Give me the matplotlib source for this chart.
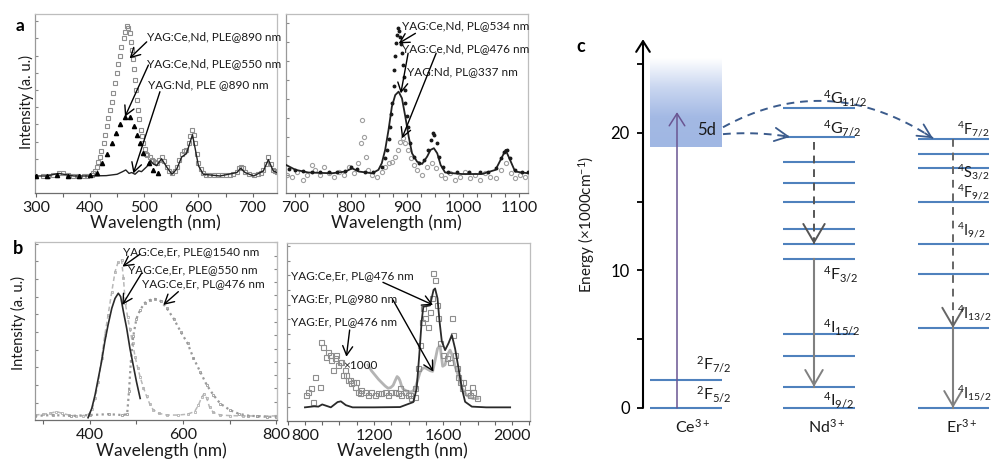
import numpy as np
import matplotlib
matplotlib.use("Agg")
import matplotlib.pyplot as plt
from matplotlib.ticker import FixedLocator, MultipleLocator
from matplotlib.colors import LinearSegmentedColormap

plt.rcParams['font.family'] = ['Lato', 'DejaVu Sans']
plt.rcParams['mathtext.fontset'] = 'custom'
plt.rcParams['mathtext.rm'] = 'Lato'
plt.rcParams['mathtext.it'] = 'Lato:italic'
plt.rcParams['mathtext.bf'] = 'Lato:bold'

# ---------------- panel a, left: excitation spectra (a.u.) ----------------
a1_ceNd_ple890_wl = [298, 314, 322, 332, 342, 351, 360, 369, 378, 388, 395, 403, 406, 409, 412, 415,
                     418, 421, 425, 428, 431, 434, 437, 440, 443, 446, 449, 452, 455, 458, 462, 465,
                     468, 471, 473, 475, 477, 479, 481, 483, 485, 487, 489, 491, 494, 496, 498, 501,
                     503, 506, 510, 514, 517, 520, 523, 528, 532, 537, 542, 546, 551, 556, 560, 565,
                     569, 574, 578, 582, 585, 589, 592, 594, 597, 600, 604, 609, 614, 620, 628, 636,
                     644, 651, 658, 664, 671, 675, 678, 682, 686, 694, 702, 710, 715, 720, 724, 729,
                     734, 738, 741, 745]
a1_ceNd_ple890_i = [0.0, 0.0, 0.02, 0.05, 0.2, 0.15, 0.05, 0.0, 0.0, 0.0, 0.02, 0.08, 0.15, 0.3, 0.55, 0.8,
                    1.1, 1.45, 1.9, 2.4, 2.9, 3.4, 3.85, 4.3, 4.8, 5.4, 6.0, 6.5, 7.0, 7.5, 8.0, 8.4,
                    8.7, 8.6, 8.3, 7.8, 7.3, 6.8, 6.2, 5.6, 5.0, 4.4, 3.85, 3.3, 2.7, 2.3, 1.9, 1.55,
                    1.3, 1.2, 1.1, 0.95, 0.85, 0.8, 0.75, 0.95, 1.1, 0.85, 0.55, 0.3, 0.15, 0.3, 0.55, 0.95,
                    1.3, 1.45, 1.5, 1.9, 2.3, 2.7, 2.4, 1.9, 1.3, 0.75, 0.4, 0.15, 0.08, 0.05, 0.05, 0.05,
                    0.05, 0.05, 0.05, 0.1, 0.25, 0.45, 0.55, 0.45, 0.25, 0.1, 0.05, 0.1, 0.2, 0.35, 0.7, 1.1,
                    0.7, 0.35, 0.3, 0.25]
a1_ceNd_ple550_wl = [300, 320, 340, 360, 380, 400, 412, 422, 431, 440, 448, 455, 465, 474, 481,
                     487, 492, 498, 508, 517, 526]
a1_ceNd_ple550_i = [0.0, 0.0, 0.05, 0.0, 0.0, 0.05, 0.2, 0.75, 1.3, 1.9, 2.5, 3.0, 3.45, 3.45, 2.9,
                    2.4, 1.9, 1.35, 0.75, 0.35, 0.15]
a1_nd_ple890_wl = [298, 320, 342, 370, 400, 430, 450, 460, 466, 472, 477, 483, 490, 495, 505,
                   511, 517, 523, 532, 542, 551, 560, 569, 578, 584, 589, 594, 600, 609, 640,
                   671, 678, 686, 702, 720, 729, 738, 745]
a1_nd_ple890_i = [0.0, 0.0, 0.15, 0.0, 0.0, 0.02, 0.1, 0.25, 0.35, 0.15, 0.2, 0.1, 0.3, 0.25, 0.55,
                  0.9, 0.7, 0.6, 1.0, 0.5, 0.1, 0.4, 1.1, 1.3, 1.9, 2.4, 1.6, 0.6, 0.1, 0.0,
                  0.2, 0.45, 0.2, 0.0, 0.3, 0.95, 0.3, 0.2]

# ---------------- panel a, right: emission spectra (a.u.) ----------------
a2_ceNd_pl534_wl = [690, 700, 715, 730, 745, 760, 775, 790, 800, 810, 825, 840, 855, 860, 864, 867,
                    870, 872, 874, 876, 877, 879, 880, 882, 884, 886, 888, 890, 891, 893, 894, 896,
                    897, 900, 902, 906, 912, 921, 930, 937, 942, 946, 949, 954, 958, 964, 974, 990,
                    1010, 1030, 1045, 1058, 1067, 1073, 1078, 1084, 1093, 1105, 1116]
a2_ceNd_pl534_i = [0.2, 0.15, 0.1, 0.05, 0.05, 0.05, 0.05, 0.1, 0.35, 0.2, 0.05, 0.05, 0.35, 0.8, 1.23, 1.8,
                   2.46, 3.1, 3.68, 4.6, 5.44, 6.2, 6.84, 7.3, 7.63, 7.5, 7.19, 6.8, 6.32, 5.7, 5.09, 4.4,
                   3.68, 3.0, 2.46, 1.58, 0.88, 0.53, 0.7, 1.23, 1.75, 2.11, 2.02, 1.58, 0.88, 0.35, 0.04, 0.05,
                   0.05, 0.05, 0.05, 0.26, 0.79, 1.14, 1.23, 0.79, 0.18, 0.05, 0.05]
a2_ceNd_pl476_wl = [684, 701, 724, 766, 790, 802, 814, 838, 849, 855, 861, 867, 873, 879, 885,
                    891, 897, 903, 909, 918, 927, 936, 942, 948, 954, 960, 968, 998, 1034, 1058,
                    1067, 1076, 1084, 1093, 1116]
a2_ceNd_pl476_i = [0.44, 0.18, 0.04, 0.0, 0.09, 0.26, 0.09, 0.0, 0.18, 0.53, 1.23, 2.28, 3.51, 4.12, 4.3,
                   3.95, 2.98, 1.93, 1.05, 0.61, 0.49, 0.88, 1.23, 1.32, 1.05, 0.44, 0.04, -0.04, -0.04, 0.18,
                   0.7, 1.23, 0.7, 0.09, 0.0]
a2_nd_pl337_wl = [686, 695, 704, 714, 722, 730, 736, 745, 751, 760, 769, 778, 787, 796, 805,
                  813, 817, 820, 823, 826, 830, 838, 846, 855, 861, 867, 873, 879, 884, 888,
                  892, 897, 902, 907, 912, 918, 927, 936, 945, 952, 960, 968, 977, 986, 995,
                  1004, 1013, 1022, 1031, 1040, 1049, 1058, 1067, 1076, 1085, 1093, 1102, 1111]
a2_nd_pl337_i = [-0.09, -0.18, 0.09, -0.35, -0.09, 0.44, 0.18, -0.09, 0.35, 0.0, -0.18, 0.09, -0.09, 0.35, 0.0,
                 0.53, 1.58, 2.81, 1.93, 0.88, 0.18, -0.09, -0.18, 0.09, 0.35, 0.53, 0.61, 0.88, 1.23, 1.67,
                 1.84, 1.58, 1.23, 0.79, 0.44, 0.18, -0.09, 0.35, 0.53, 0.26, -0.09, -0.26, 0.0, -0.35, -0.18,
                 0.09, -0.26, -0.09, -0.35, 0.0, -0.18, -0.26, 0.18, 0.53, 0.0, -0.26, -0.09, -0.18]

# ---------------- panel b, left: YAG:Ce,Er excitation / emission ----------------
b1_ple1540_wl = [282, 300, 315, 328, 340, 355, 370, 385, 398, 405, 411, 418, 425, 432, 439, 447,
                 454, 461, 468, 472, 476, 481, 486, 492, 497, 503, 508, 515, 522, 529, 536, 548,
                 565, 590, 610, 625, 633, 640, 645, 651, 657, 665, 680, 700, 730, 760, 800]
b1_ple1540_i = [0.15, 0.2, 0.25, 0.35, 0.25, 0.15, 0.1, 0.12, 0.2, 0.5, 1.1, 2.0, 3.36, 4.68, 5.8, 7.13,
                8.26, 8.83, 8.92, 7.9, 6.5, 5.7, 5.0, 4.2, 3.45, 2.8, 2.3, 1.7, 1.2, 0.75, 0.45, 0.25,
                0.15, 0.15, 0.2, 0.35, 0.7, 1.15, 1.35, 1.1, 0.6, 0.3, 0.15, 0.12, 0.1, 0.1, 0.1]
b1_ple550_wl = [396, 404, 411, 418, 425, 432, 439, 447, 454, 461, 466, 472, 479, 486, 493, 500, 508]
b1_ple550_i = [0.0, 0.53, 1.28, 2.23, 3.17, 4.3, 5.25, 6.19, 6.75, 7.04, 6.85, 6.0, 5.06, 3.92, 2.98,
               2.04, 1.09]
b1_pl476_wl = [282, 320, 360, 400, 440, 470, 480, 484, 488, 493, 500, 508, 518, 529, 540, 552,
               565, 580, 595, 610, 622, 637, 651, 665, 680, 701, 720, 740, 760, 780, 800]
b1_pl476_i = [0.1, 0.15, 0.1, 0.15, 0.2, 0.15, 0.2, 1.5, 3.2, 4.6, 5.6, 6.1, 6.5, 6.66, 6.72, 6.6,
              6.2, 5.6, 4.87, 4.2, 3.4, 2.6, 1.85, 1.3, 0.8, 0.43, 0.22, 0.12, 0.08, 0.05, 0.05]

# ---------------- panel b, right: near-infrared emission ----------------
b2_ceEr_pl476_wl = [800, 853, 878, 900, 925, 950, 989, 1008, 1037, 1076, 1200, 1351, 1428, 1447, 1462,
                    1476, 1486, 1505, 1525, 1545, 1554, 1568, 1580, 1593, 1612, 1632, 1651, 1670,
                    1690, 1709, 1728, 1767, 1850, 1989]
b2_ceEr_pl476_i = [0.0, 0.07, 0.05, 0.2, 0.1, 0.0, 0.36, 0.41, 0.15, 0.0, 0.0, 0.02, 0.36, 1.27, 3.5,
                   5.84, 6.86, 6.9, 6.95, 8.0, 8.1, 7.43, 5.84, 4.5, 3.9, 4.37, 4.93, 4.0,
                   2.66, 1.3, 0.38, 0.05, 0.0, 0.0]
b2_er_pl980_wl = [1165, 1185, 1206, 1227, 1247, 1265, 1282, 1297, 1311, 1322, 1334, 1343, 1351, 1360,
                  1369, 1390, 1409, 1425, 1438, 1452, 1467, 1481, 1496, 1510, 1525, 1540, 1554, 1568,
                  1583, 1598, 1612, 1626, 1641, 1655, 1670, 1687, 1710, 1739, 1774, 1803]
b2_er_pl980_i = [2.9, 2.5, 2.2, 1.9, 1.66, 1.45, 1.3, 1.35, 1.5, 1.8, 2.1, 2.0, 1.8, 1.45,
                 1.25, 1.1, 1.05, 1.1, 1.3, 1.8, 2.4, 2.65, 2.7, 2.6, 2.5, 2.45, 3.2, 4.0,
                 4.2, 2.8, 2.9, 3.6, 3.9, 3.5, 2.8, 2.2, 1.3, 0.8, 0.6, 0.6]
b2_er_pl476_wl = [808, 817, 837, 846, 856, 885, 895, 904, 924, 933, 943, 953, 962, 972, 982, 991,
                  1001, 1011, 1020, 1030, 1040, 1049, 1059, 1069, 1078, 1088, 1098, 1107, 1117, 1127,
                  1146, 1165, 1184, 1204, 1223, 1242, 1262, 1281, 1300, 1320, 1339, 1358, 1378, 1397,
                  1416, 1436, 1351, 1380, 1409, 1438, 1457, 1467, 1477, 1486, 1496, 1515, 1525, 1535,
                  1544, 1554, 1563, 1573, 1583, 1598, 1621, 1641, 1650, 1660, 1670, 1679, 1689, 1699,
                  1708, 1718, 1737, 1757, 1766, 1776, 1795]
b2_er_pl476_i = [0.84, 1.07, 1.3, 0.39, 2.09, 1.41, 4.48, 4.14, 3.45, 3.8, 3.57, 3.23, 2.55, 3.34, 3.57, 2.89,
                 3.11, 3.11, 2.2, 2.55, 2.2, 1.86, 1.86, 1.64, 1.75, 1.41, 1.75, 1.07, 0.95, 1.18,
                 1.07, 0.84, 1.07, 0.84, 0.95, 0.95, 1.07, 0.84, 1.07, 1.07, 0.95, 0.84, 1.07, 0.84,
                 0.61, 0.73, 1.3, 1.07, 0.84, 1.3, 2.66, 4.25, 5.84, 6.75, 6.07, 5.5, 6.52, 7.43,
                 9.14, 8.68, 6.98, 6.07, 4.36, 3.57, 3.34, 3.11, 6.07, 4.93, 3.57, 2.66, 2.09, 1.75,
                 1.3, 1.75, 1.07, 0.84, 1.41, 1.07, 0.61]

# ---------------- panel c: energy levels (x1000 cm^-1) ----------------
ce_levels = [0.0, 2.03]
ce_5d_band = (19.0, 25.4)
ce_pump_top = 21.5
nd_levels = [0.0, 1.53, 3.78, 5.38, 10.83, 11.9, 13.0, 14.97, 16.35, 17.9, 19.7, 21.8]
er_levels = [0.0, 5.81, 9.74, 11.9, 14.97, 17.44, 18.46, 19.55]
ce_labels = [(r'$\mathregular{^2F_{5/2}}$', 0.3), (r'$\mathregular{^2F_{7/2}}$', 2.45)]
nd_labels = [(r'$\mathregular{^4G_{11/2}}$', 22.5), (r'$\mathregular{^4G_{7/2}}$', 20.3),
             (r'$\mathregular{^4F_{3/2}}$', 9.7), (r'$\mathregular{^4I_{15/2}}$', 5.9),
             (r'$\mathregular{^4I_{9/2}}$', 0.55)]
er_labels = [(r'$\mathregular{^4F_{7/2}}$', 20.3), (r'$\mathregular{^4S_{3/2}}$', 17.15),
             (r'$\mathregular{^4F_{9/2}}$', 15.7), (r'$\mathregular{^4I_{9/2}}$', 12.9),
             (r'$\mathregular{^4I_{13/2}}$', 6.9), (r'$\mathregular{^4I_{15/2}}$', 1.1)]
energy_ticks = [0, 5, 10, 15, 20, 25]
energy_ticklabels = ['0', '', '10', '', '20', '']

# ---------------- figure ----------------
W, H = 993, 461
fig = plt.figure(figsize=(W / 100, H / 100), dpi=100)


def box(x0, y0, x1, y1):
    return [x0 / W, 1 - y1 / H, (x1 - x0) / W, (y1 - y0) / H]


TXT = '#1a1a1a'
GRAY_SQ = '#8e8e8e'
ANN_FS = 8.5


def style_spectrum(ax, xlim, ylim, xmajor, xminor, yticks):
    ax.set_xlim(*xlim)
    ax.set_ylim(*ylim)
    ax.xaxis.set_major_locator(FixedLocator(xmajor))
    ax.xaxis.set_minor_locator(MultipleLocator(xminor))
    ax.set_yticks(yticks)
    ax.set_yticklabels([])
    ax.tick_params(axis='x', which='both', direction='out', colors='#666666',
                   labelcolor=TXT, labelsize=11.5, pad=2.5)
    ax.tick_params(axis='x', which='major', length=3, width=0.8)
    ax.tick_params(axis='x', which='minor', length=3, width=0.8)
    ax.tick_params(axis='y', direction='in', length=2.5, width=0.8, colors='#888888')
    ax.spines['top'].set_color('#bdbdbd')
    ax.spines['right'].set_color('#bdbdbd')
    ax.spines['left'].set_color('#999999')
    ax.spines['bottom'].set_color('#6e6e6e')
    for s in ax.spines.values():
        s.set_linewidth(0.9)


def note(ax, text, xy_text, head, tail):
    ax.text(xy_text[0], xy_text[1], text, fontsize=ANN_FS, color=TXT, ha='left', va='center',
            zorder=6)
    ax.annotate('', xy=head, xytext=tail,
                arrowprops=dict(arrowstyle='->,head_length=0.55,head_width=0.3', color='black',
                                lw=1.0, shrinkA=0, shrinkB=0, mutation_scale=12), zorder=7)


# ---- a (left)
ax = fig.add_axes(box(35, 14, 277, 193))
style_spectrum(ax, (298.5, 745), (-0.99, 9.42), [300, 400, 500, 600, 700], 50, np.arange(0, 9.5, 1))
ax.plot(a1_ceNd_ple890_wl, a1_ceNd_ple890_i, ls='none', marker='s', ms=3.4, mfc='none',
        mec=GRAY_SQ, mew=0.8, zorder=2)
ax.plot(a1_nd_ple890_wl, a1_nd_ple890_i, color='#222222', lw=1.0, zorder=3)
ax.plot(a1_ceNd_ple550_wl, a1_ceNd_ple550_i, ls='none', marker='^', ms=3.0, color='black', zorder=4)
note(ax, 'YAG:Ce,Nd, PLE@890 nm', (504.6, 8.1), (473, 6.84), (504.6, 7.8))
note(ax, 'YAG:Ce,Nd, PLE@550 nm', (504.6, 6.55), (464.6, 3.45), (507.7, 6.45))
note(ax, 'YAG:Nd, PLE @890 nm', (507.7, 5.29), (480, 0.15), (529, 4.9))

# ---- a (right)
ax = fig.add_axes(box(286, 14, 528, 193))
style_spectrum(ax, (684, 1116), (-1.04, 8.39), [700, 800, 900, 1000, 1100], 25,
               np.arange(-0.1, 8.3, 1))
ax.plot(a2_nd_pl337_wl, a2_nd_pl337_i, ls='none', marker='o', ms=3.0, mfc='none', mec='#a0a0a0',
        mew=0.8, zorder=2)
ax.plot(a2_ceNd_pl476_wl, a2_ceNd_pl476_i, color='#222222', lw=1.3, zorder=3)
ax.plot(a2_ceNd_pl534_wl, a2_ceNd_pl534_i, ls='none', marker='o', ms=1.8, color='#1a1a1a', zorder=4)
note(ax, 'YAG:Ce,Nd, PL@534 nm', (891, 7.8), (885, 6.84), (915, 7.37))
note(ax, 'YAG:Ce,Nd, PL@476 nm', (891, 6.58), (889, 4.21), (902, 6.32))
note(ax, 'YAG:Nd, PL@337 nm', (900, 5.35), (891, 1.84), (952, 6.32))

# ---- b (left)
ax = fig.add_axes(box(35, 242, 277, 420))
style_spectrum(ax, (282, 802), (-0.13, 9.94), [400, 600, 800], 100, np.arange(0.85, 9.9, 1))
sec = ax.secondary_yaxis('right', functions=(lambda y: y * 1.33, lambda y: y / 1.33))
sec.set_yticks(np.arange(0.2, 13.3, 1))
sec.tick_params(direction='in', length=2.5, width=0.8, colors='#888888', labelright=False)
sec.spines['right'].set_color('#bdbdbd')
ax.plot(b1_ple1540_wl, b1_ple1540_i, color='#b8b8b8', ls=(0, (3, 2)), lw=1.1, marker='s', ms=1.8,
        mfc='none', mec='#b0b0b0', mew=0.6, zorder=2)
ax.plot(b1_pl476_wl, b1_pl476_i, color='#9a9a9a', ls=(0, (1, 1.5)), lw=1.6, marker='s', ms=1.8,
        mfc='none', mec='#9a9a9a', mew=0.6, zorder=2)
ax.plot(b1_ple550_wl, b1_ple550_i, color='#2a2a2a', lw=1.2, zorder=3)
note(ax, 'YAG:Ce,Er, PLE@1540 nm', (471.7, 9.4), (470, 8.55), (507.6, 9.25))
note(ax, 'YAG:Ce,Er, PLE@550 nm', (482.5, 8.4), (469.5, 6.38), (511, 8.17))
note(ax, 'YAG:Ce,Er, PL@476 nm', (511, 7.6), (557.7, 6.38), (590, 7.13))

# ---- b (right)
ax = fig.add_axes(box(287, 243, 530, 421))
style_spectrum(ax, (696, 2104), (-0.93, 11.2), [800, 1200, 1600, 2000], 100, np.arange(0, 11.5, 1))
ax.plot(b2_er_pl980_wl, b2_er_pl980_i, color='#b4b4b4', lw=2.0, solid_capstyle='round', zorder=2)
ax.plot(b2_er_pl476_wl, b2_er_pl476_i, ls='none', marker='s', ms=3.6, mfc='none', mec=GRAY_SQ,
        mew=0.8, zorder=3)
ax.plot(b2_ceEr_pl476_wl, b2_ceEr_pl476_i, color='#2a2a2a', lw=1.3, zorder=4)
note(ax, 'YAG:Ce,Er, PL@476 nm', (721, 9.0), (1542, 6.98), (1252, 8.52))
note(ax, 'YAG:Er, PL@980 nm', (721, 7.43), (1544, 2.43), (1310, 7.32))
note(ax, 'YAG:Er, PL@476 nm', (721, 5.84), (1040, 3.45), (1059, 5.27))
ax.text(1020, 2.82, '\u00d71000', fontsize=ANN_FS, color=TXT, ha='left', va='center', zorder=6)

# ---- shared labels for a and b
for cx, cy in [(155, 223), (396, 223), (161, 451), (402, 451)]:
    fig.text(cx / W, 1 - cy / H, 'Wavelength (nm)', fontsize=12.5, color=TXT, ha='center', va='center')
for cx, cy in [(26, 102), (18.5, 323)]:
    fig.text(cx / W, 1 - cy / H, 'Intensity (a. u.)', fontsize=10.5, color=TXT, rotation=90,
             ha='center', va='center')
fig.text(20 / W, 1 - 26 / H, 'a', fontsize=12.5, fontweight='bold', color='black', ha='center', va='center')
fig.text(18 / W, 1 - 248 / H, 'b', fontsize=13, fontweight='bold', color='black', ha='center', va='center')

# ---------------- panel c: energy-level diagram ----------------
axc = fig.add_axes(box(643, 30, 993, 440))
axc.set_xlim(0, 350)
axc.set_ylim(-2.33, 27.47)
for s in axc.spines.values():
    s.set_visible(False)
axc.set_xticks([])
axc.set_yticks(energy_ticks)
axc.set_yticklabels(energy_ticklabels)
axc.tick_params(axis='y', direction='out', length=4.5, width=1.3, pad=5, labelsize=12,
                colors='black')
axc.patch.set_alpha(0)

LEVEL = '#4f81bd'
ce_x, nd_x, er_x = (7, 79), (140, 212), (275, 346)
ce_arrow_x, nd_arrow_x, er_arrow_x = 34, 171, 310
LBL_FS = 11.5

# energy axis with arrow
axc.annotate('', xy=(0, 26.8), xytext=(0, 0),
             arrowprops=dict(arrowstyle='->,head_length=0.55,head_width=0.35', color='black', lw=1.5,
                             shrinkA=0, shrinkB=0, mutation_scale=14), annotation_clip=False)

# Ce 5d band drawn as a vertical colour gradient
band_cmap = LinearSegmentedColormap.from_list('band', ['#a0b7e3', '#a3b9e4', '#c9d6f0', '#ffffff'])
grad = np.linspace(0, 1, 256).reshape(-1, 1)
axc.imshow(grad, extent=(ce_x[0], ce_x[1], ce_5d_band[0], ce_5d_band[1]), origin='lower',
           aspect='auto', cmap=band_cmap, zorder=1)
axc.text(54, 20.2, '5d', fontsize=12, color=TXT, ha='left', va='center', zorder=5)

for e in ce_levels:
    axc.plot(ce_x, [e, e], color=LEVEL, lw=1.5, solid_capstyle='butt', zorder=2)
for e in nd_levels:
    axc.plot(nd_x, [e, e], color=LEVEL, lw=1.5, solid_capstyle='butt', zorder=2)
for e in er_levels:
    axc.plot(er_x, [e, e], color=LEVEL, lw=1.5, solid_capstyle='butt', zorder=2)

for txt, e in ce_labels:
    axc.text(53, e, txt, fontsize=LBL_FS, color=TXT, ha='left', va='bottom', zorder=5)
for txt, e in nd_labels:
    axc.text(180, e, txt, fontsize=LBL_FS, color=TXT, ha='left', va='center', zorder=5)
for txt, e in er_labels:
    axc.text(314, e, txt, fontsize=10.5, color=TXT, ha='left', va='center', zorder=5, clip_on=False)

for name, xc in [('Ce', 50), ('Nd', 184), ('Er', 319)]:
    axc.text(xc, -1.38, name + r'$\mathregular{^{3+}}$', fontsize=11.5, color=TXT, ha='center', va='center')

# Ce pump (absorption into 5d)
axc.annotate('', xy=(ce_arrow_x, ce_pump_top), xytext=(ce_arrow_x, ce_levels[0]),
             arrowprops=dict(arrowstyle='->,head_length=0.55,head_width=0.35', color='#6a5592', lw=1.1,
                             shrinkA=0, shrinkB=0, mutation_scale=16), zorder=3)


def vertical_arrow(x, top, bottom, dashed, color, scale):
    if dashed:
        axc.plot([x, x], [top, bottom], color=color, lw=1.4, ls=(0, (4, 3)), zorder=3)
    else:
        axc.plot([x, x], [top, bottom], color=color, lw=1.5, zorder=3)
    axc.annotate('', xy=(x, bottom), xytext=(x, bottom + 0.4),
                 arrowprops=dict(arrowstyle='->,head_length=0.6,head_width=0.35', color=color, lw=1.4,
                                 shrinkA=0, shrinkB=0, mutation_scale=scale), zorder=3)


# Nd relaxation and emission
vertical_arrow(nd_arrow_x, nd_levels[10] - 0.4, nd_levels[5], True, '#555555', 22)
vertical_arrow(nd_arrow_x, nd_levels[4], nd_levels[1], False, '#808080', 18)
# Er relaxation and emission
vertical_arrow(er_arrow_x, er_levels[7], er_levels[1], True, '#666666', 22)
vertical_arrow(er_arrow_x, er_levels[1], er_levels[0], False, '#808080', 18)


def transfer(p0, p1, lift, color):
    # dashed quadratic path with an open arrowhead at its end
    (x0, y0), (x1, y1) = p0, p1
    cx, cy = (x0 + x1) / 2, (y0 + y1) / 2 + lift
    t = np.linspace(0, 1, 80)
    xs = (1 - t) ** 2 * x0 + 2 * (1 - t) * t * cx + t ** 2 * x1
    ys = (1 - t) ** 2 * y0 + 2 * (1 - t) * t * cy + t ** 2 * y1
    axc.plot(xs, ys, color=color, lw=1.4, ls=(0, (4, 3)), zorder=4)
    axc.annotate('', xy=(xs[-1], ys[-1]), xytext=(xs[-4], ys[-4]),
                 arrowprops=dict(arrowstyle='->,head_length=0.6,head_width=0.3', color=color, lw=1.3,
                                 shrinkA=0, shrinkB=0, mutation_scale=16), zorder=4)


transfer((80, 20.4), (290, er_levels[7] + 0.05), 4.6, '#3b5b8c')
transfer((80, 19.9), (147, nd_levels[10]), 0.3, '#3b5b8c')

fig.text(587 / W, 1 - 224 / H, r'Energy ($\mathregular{\times}$1000cm$\mathregular{^{-1}}$)',
         fontsize=11, color=TXT, rotation=90, ha='center', va='center')
fig.text(581 / W, 1 - 47 / H, 'c', fontsize=13, fontweight='bold', color='black', ha='center', va='center')

fig.savefig('out.png', dpi=100)
